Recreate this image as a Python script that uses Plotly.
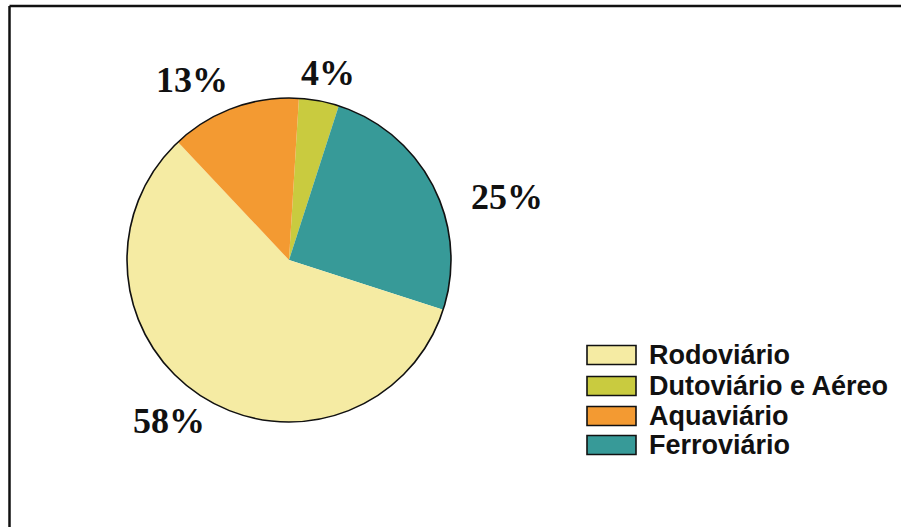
import plotly.graph_objects as go

# Data
slice_labels = ["Dutoviário e Aéreo", "Ferroviário", "Rodoviário", "Aquaviário"]
slice_values = [4, 25, 58, 13]
slice_colors = ["#C9CB3F", "#379A98", "#F5EBA3", "#F39A32"]

legend_order = ["Rodoviário", "Dutoviário e Aéreo", "Aquaviário", "Ferroviário"]

W, H = 901, 527
cx, cy, r = 289, 260, 162  # pie centre / radius in px (from top-left)

dom_x = [(cx - r) / W, (cx + r) / W]
dom_y = [(H - cy - r) / H, (H - cy + r) / H]

fig = go.Figure()
fig.add_trace(go.Pie(
    labels=slice_labels, values=slice_values, sort=False,
    direction="clockwise", rotation=3.5,
    marker=dict(colors=slice_colors, line=dict(width=0)),
    textinfo="none", hoverinfo="label+percent", showlegend=False,
    domain=dict(x=dom_x, y=dom_y),
))
# outer outline only
fig.add_trace(go.Pie(
    labels=["outline"], values=[1], sort=False,
    marker=dict(colors=["rgba(0,0,0,0)"], line=dict(color="#111111", width=1.6)),
    textinfo="none", hoverinfo="skip", showlegend=False,
    domain=dict(x=dom_x, y=dom_y),
))

# percentage labels (positions in px)
label_pos = {"Aquaviário": (192, 80), "Dutoviário e Aéreo": (328, 73),
             "Ferroviário": (507, 197), "Rodoviário": (169, 421)}
annotations = []
for lab, val in zip(slice_labels, slice_values):
    px, py = label_pos[lab]
    annotations.append(dict(
        x=px / W, y=1 - py / H, xref="paper", yref="paper",
        text=f"<b>{val}%</b>", showarrow=False, xanchor="center", yanchor="middle",
        font=dict(family="Liberation Serif", size=36, color="#111111"),
    ))

# custom legend
shapes = []
row_y = [355, 386, 416, 445]
color_of = dict(zip(slice_labels, slice_colors))
for lab, ry in zip(legend_order, row_y):
    shapes.append(dict(
        type="rect", xref="paper", yref="paper",
        x0=587 / W, x1=636 / W, y0=1 - (ry - 9.5) / H, y1=1 - (ry + 9.5) / H,
        fillcolor=color_of[lab], line=dict(color="#111111", width=1.6),
    ))
    annotations.append(dict(
        x=647 / W, y=1 - ry / H, xref="paper", yref="paper",
        text=f"<b>{lab}</b>", showarrow=False, xanchor="left", yanchor="middle",
        font=dict(family="Liberation Sans", size=27, color="#111111"),
    ))

# frame lines (top and left)
shapes.append(dict(type="line", xref="paper", yref="paper",
                   x0=9.5 / W, x1=9.5 / W, y0=0, y1=1 - 6 / H,
                   line=dict(color="#111111", width=2.5)))
shapes.append(dict(type="line", xref="paper", yref="paper",
                   x0=9.5 / W, x1=1, y0=1 - 6 / H, y1=1 - 6 / H,
                   line=dict(color="#111111", width=2.5)))

fig.update_layout(
    width=W, height=H, margin=dict(l=0, r=0, t=0, b=0),
    paper_bgcolor="white", plot_bgcolor="white",
    annotations=annotations, shapes=shapes, showlegend=False,
)
fig.write_html("out.html", config={"displayModeBar": False},
               post_script="document.body.style.margin='0px';document.body.style.overflow='hidden';")
